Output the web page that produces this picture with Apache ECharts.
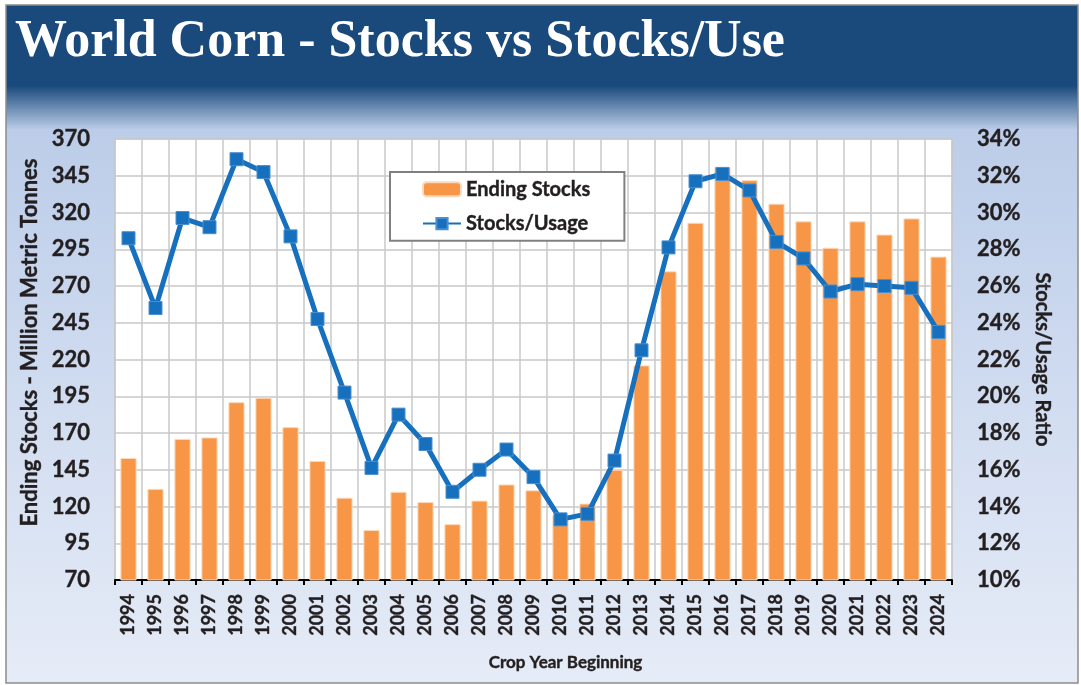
<!DOCTYPE html>
<html>
<head>
<meta charset="utf-8">
<script src="https://cdn.jsdelivr.net/npm/echarts@6/dist/echarts.min.js"></script>
<style>
  html, body { margin: 0; padding: 0; background: #fff; }
  #chart { width: 1081px; height: 685px; }
</style>
</head>
<body>
<div id="chart"></div>
<script>
// crop years on the x axis
const years = ['1994', '1995', '1996', '1997', '1998', '1999', '2000', '2001', '2002', '2003',
  '2004', '2005', '2006', '2007', '2008', '2009', '2010', '2011', '2012', '2013',
  '2014', '2015', '2016', '2017', '2018', '2019', '2020', '2021', '2022', '2023', '2024']

// ending stocks, million metric tonnes (left axis)
const endingStocks = [153, 132, 166, 167, 191, 194, 174, 151, 126, 104,
  130, 123, 108, 124, 135, 131, 114, 122, 145, 216,
  280, 313, 351, 342, 326, 314, 296, 314, 305, 316, 290]

// stocks / usage ratio in percent (right axis)
const stocksUse = [28.6, 24.8, 29.7, 29.2, 32.9, 32.2, 28.7, 24.2, 20.2, 16.1,
  19.0, 17.4, 14.8, 16.0, 17.1, 15.6, 13.3, 13.6, 16.5, 22.5,
  28.1, 31.7, 32.1, 31.2, 28.4, 27.5, 25.7, 26.1, 26.0, 25.9, 23.5]

const fontFamily = 'Lato, "Open Sans", sans-serif'
const textColor = '#231f20'

// bold text, slightly thickened to get closer to the heavy original face
function bold(size) {
  return {
    color: textColor,
    fontFamily: fontFamily,
    fontWeight: 'bold',
    fontSize: size,
    textBorderColor: textColor,
    textBorderWidth: 0.4
  }
}

const chart = echarts.init(document.getElementById('chart'))
chart.setOption({
  backgroundColor: '#ffffff',
  graphic: [
    {
      type: 'rect',
      z: -10,
      shape: { x: 6, y: 5, width: 1072, height: 678 },
      style: {
        fill: {
          type: 'linear', x: 0, y: 0, x2: 0, y2: 1,
          colorStops: [
            { offset: 0, color: '#1a4a7c' },
            { offset: 0.12, color: '#1a4a7c' },
            { offset: 0.185, color: '#bccde9' },
            { offset: 1, color: '#e6ecf7' }
          ]
        },
        stroke: '#8c8c8c',
        lineWidth: 1.5
      },
      silent: true
    },
    {
      type: 'text',
      left: 15,
      top: 17,
      style: {
        text: 'World Corn - Stocks vs Stocks/Use',
        fill: '#ffffff',
        font: 'bold 52px "Liberation Serif", serif'
      }
    }
  ],
  grid: {
    left: 115,
    right: 129,
    top: 139,
    bottom: 105,
    show: true,
    backgroundColor: '#ffffff',
    borderColor: '#bdbdbd',
    borderWidth: 1
  },
  legend: {
    orient: 'vertical',
    left: 390,
    top: 172,
    padding: [7, 34, 7, 32],
    itemGap: 14,
    itemWidth: 38,
    itemHeight: 14,
    backgroundColor: '#ffffff',
    borderColor: '#808080',
    borderWidth: 2,
    textStyle: bold(20),
    data: ['Ending Stocks', 'Stocks/Usage']
  },
  xAxis: {
    type: 'category',
    data: years,
    boundaryGap: true,
    name: 'Crop Year Beginning',
    nameLocation: 'middle',
    nameGap: 74,
    nameTextStyle: Object.assign(bold(17), { padding: [0, 0, 0, 64] }),
    axisLine: { lineStyle: { color: '#000', width: 2 } },
    axisTick: { show: true, length: 5, lineStyle: { color: '#000', width: 2 } },
    axisLabel: Object.assign(bold(18), { interval: 0, rotate: 90, margin: 14 }),
    splitLine: { show: true, interval: 0, lineStyle: { color: '#c8c8c8', width: 1.5 } }
  },
  yAxis: [
    {
      type: 'value',
      min: 70,
      max: 370,
      interval: 25,
      name: 'Ending Stocks - Million Metric Tonnes',
      nameLocation: 'middle',
      nameGap: 70,
      nameTextStyle: Object.assign(bold(22), { padding: [0, 0, 0, 34] }),
      axisLine: { show: false },
      axisTick: { show: false },
      axisLabel: Object.assign(bold(22), { margin: 25 }),
      splitLine: { show: true, lineStyle: { color: '#c8c8c8', width: 1.5 } }
    },
    {
      type: 'value',
      min: 10,
      max: 34,
      interval: 2,
      position: 'right',
      name: 'Stocks/Usage Ratio',
      nameLocation: 'middle',
      nameRotate: -90,
      nameGap: 80,
      nameTextStyle: bold(20),
      axisLine: { show: false },
      axisTick: { show: false },
      axisLabel: Object.assign(bold(22), { margin: 25, formatter: '{value}%' }),
      splitLine: { show: false }
    }
  ],
  series: [
    {
      name: 'Ending Stocks',
      type: 'bar',
      yAxisIndex: 0,
      barWidth: '60%',
      itemStyle: { color: '#f79646', borderColor: '#fbd9bd', borderWidth: 1 },
      data: endingStocks
    },
    {
      name: 'Stocks/Usage',
      type: 'line',
      yAxisIndex: 1,
      symbol: 'rect',
      symbolSize: 13,
      lineStyle: { color: '#1670bd', width: 5 },
      itemStyle: { color: '#1670bd', borderColor: '#4a8fd0', borderWidth: 1 },
      data: stocksUse,
      z: 3
    }
  ]
})
</script>
</body>
</html>
